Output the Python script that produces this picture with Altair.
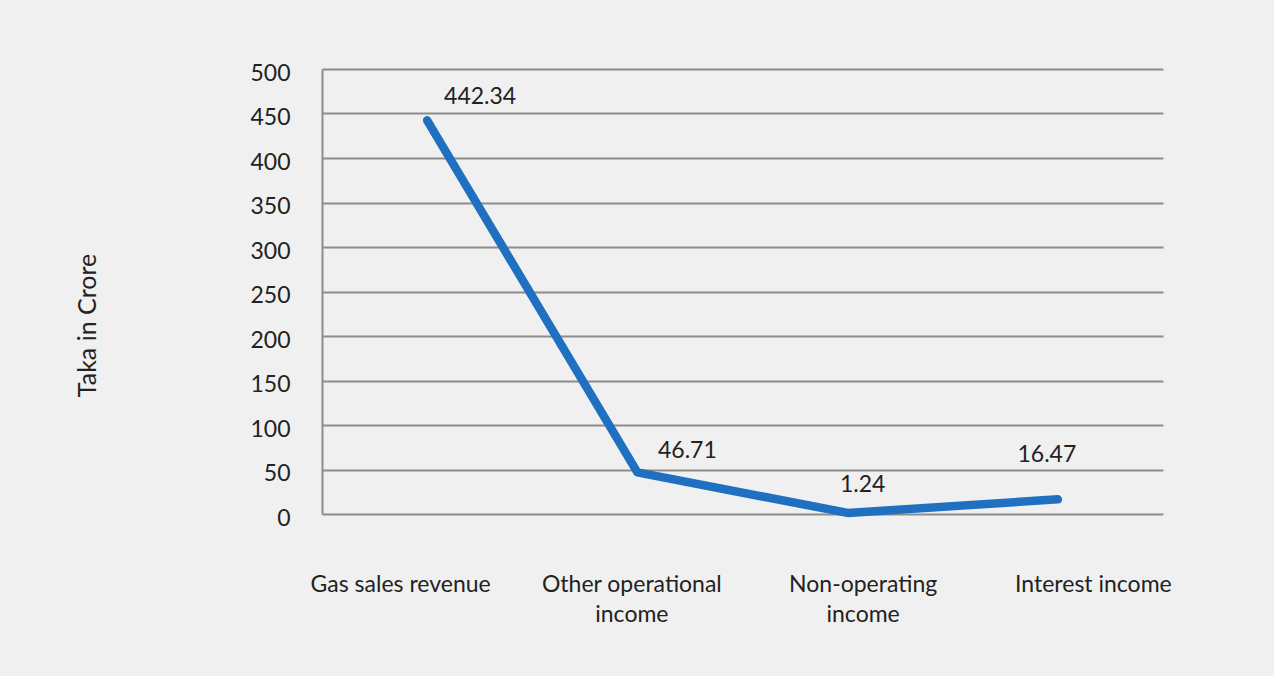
import altair as alt
import pandas as pd

categories = ["Gas sales revenue", "Other operational income", "Non-operating income", "Interest income"]
values = [442.34, 46.71, 1.24, 16.47]
value_labels = ["442.34", "46.71", "1.24", "16.47"]
y_ticks = [0, 50, 100, 150, 200, 250, 300, 350, 400, 450, 500]

df = pd.DataFrame({"cat": categories, "val": values, "lbl": value_labels})

FONT = "Lato"
FS = 23
TXT = "#222222"
GRID = "#8c8c8c"
LINE = "#1f70c0"

label_shift = [-27, -6, 15, 35]
offset_conditions = [
    {"test": f"datum.value == '{c}'", "value": s} for c, s in zip(categories, label_shift)
]

x_enc = alt.X(
    "cat:N",
    sort=categories,
    scale=alt.Scale(type="point", padding=0.5),
    axis=alt.Axis(
        orient="bottom",
        title=None,
        domain=False,
        ticks=False,
        tickSize=0,
        grid=False,
        labelAngle=0,
        labelFont=FONT,
        labelFontSize=FS,
        labelColor=TXT,
        labelLimit=0,
        labelPadding=59,
        labelLineHeight=30,
        labelBaseline="top",
        labelOffset={"condition": offset_conditions, "value": 0},
        labelExpr="datum.value == 'Other operational income' ? ['Other operational', 'income'] : datum.value == 'Non-operating income' ? ['Non-operating', 'income'] : datum.value",
    ),
)
y_enc = alt.Y(
    "val:Q",
    scale=alt.Scale(domain=[0, 500], nice=False),
    axis=alt.Axis(
        values=y_ticks,
        title="Taka in Crore",
        titleX=-235,
        titleY=256,
        titleAngle=-90,
        titleAlign="center",
        titleBaseline="middle",
        titleFont=FONT,
        titleFontSize=25,
        titleFontWeight="normal",
        titleColor=TXT,
        labelFont=FONT,
        labelFontSize=FS,
        labelColor=TXT,
        labelPadding=32,
        labelOffset=4,
        ticks=False,
        tickSize=0,
        domain=True,
        domainColor=GRID,
        domainWidth=2,
        grid=True,
        gridColor=GRID,
        gridWidth=2,
    ),
)

base = alt.Chart(df)
line = base.mark_line(color=LINE, strokeWidth=8.5, strokeCap="round", strokeJoin="round").encode(x=x_enc, y=y_enc)

offsets = [(53, -23), (50, -21), (15, -28), (-11, -44)]
texts = []
for cat, (dx, dy) in zip(categories, offsets):
    t = base.transform_filter(alt.datum.cat == cat).mark_text(
        font=FONT, fontSize=FS, color=TXT, dx=dx, dy=dy, align="center", baseline="middle"
    ).encode(x=alt.X("cat:N", sort=categories), y=alt.Y("val:Q"), text="lbl:N")
    texts.append(t)

chart = (
    alt.layer(line, *texts)
    .properties(
        width=841,
        height=445,
        background="#f0f0f0",
        padding={"left": 322, "top": 69, "right": 111, "bottom": 162},
        autosize=alt.AutoSizeParams(type="none"),
    )
    .configure_view(stroke=None)
)

chart.save("out.html", embed_options={"renderer": "svg", "actions": False})
